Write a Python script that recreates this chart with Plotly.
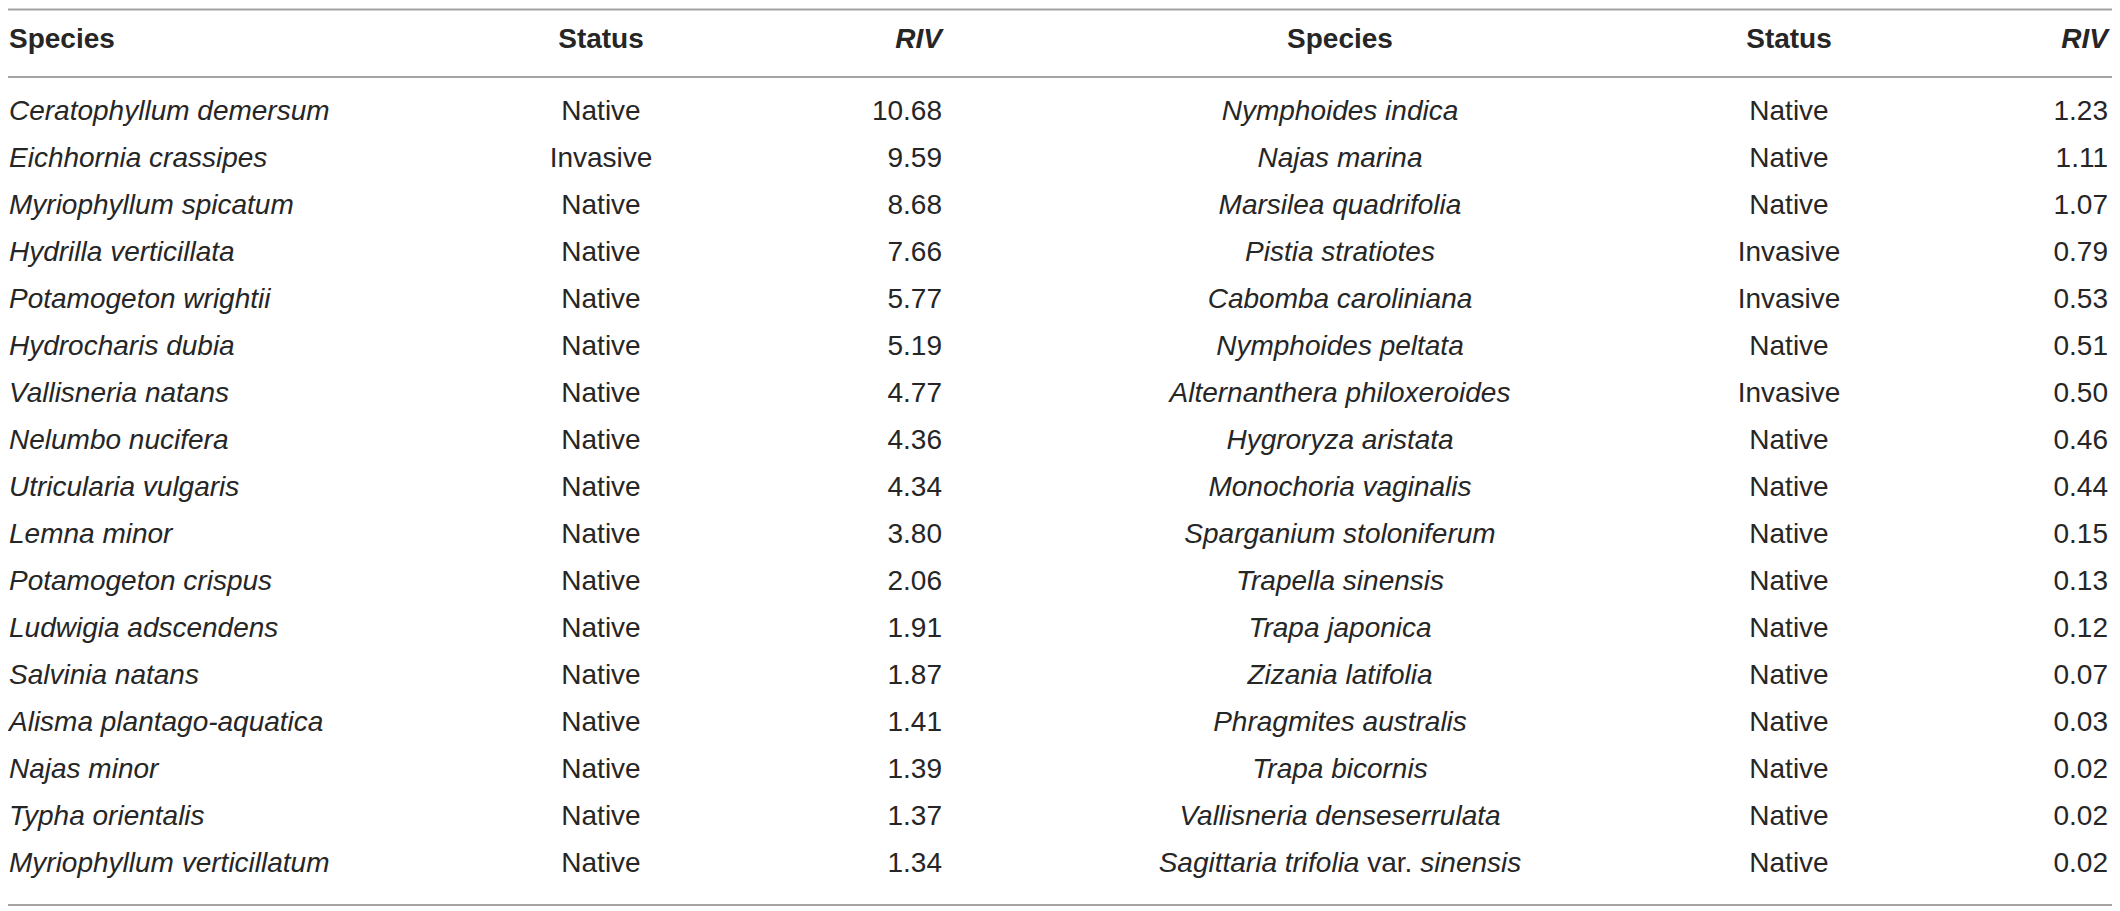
import plotly.graph_objects as go

# table contents
species_left = ["Ceratophyllum demersum", "Eichhornia crassipes", "Myriophyllum spicatum",
                "Hydrilla verticillata", "Potamogeton wrightii", "Hydrocharis dubia",
                "Vallisneria natans", "Nelumbo nucifera", "Utricularia vulgaris", "Lemna minor",
                "Potamogeton crispus", "Ludwigia adscendens", "Salvinia natans",
                "Alisma plantago-aquatica", "Najas minor", "Typha orientalis",
                "Myriophyllum verticillatum"]
status_left = ["Native", "Invasive"] + ["Native"] * 15
riv_left = [10.68, 9.59, 8.68, 7.66, 5.77, 5.19, 4.77, 4.36, 4.34, 3.80,
            2.06, 1.91, 1.87, 1.41, 1.39, 1.37, 1.34]

species_right = ["<i>Nymphoides indica</i>", "<i>Najas marina</i>", "<i>Marsilea quadrifolia</i>",
                 "<i>Pistia stratiotes</i>", "<i>Cabomba caroliniana</i>", "<i>Nymphoides peltata</i>",
                 "<i>Alternanthera philoxeroides</i>", "<i>Hygroryza aristata</i>",
                 "<i>Monochoria vaginalis</i>", "<i>Sparganium stoloniferum</i>",
                 "<i>Trapella sinensis</i>", "<i>Trapa japonica</i>", "<i>Zizania latifolia</i>",
                 "<i>Phragmites australis</i>", "<i>Trapa bicornis</i>",
                 "<i>Vallisneria denseserrulata</i>", "<i>Sagittaria trifolia</i> var. <i>sinensis</i>"]
status_right = ["Native", "Native", "Native", "Invasive", "Invasive", "Native", "Invasive",
                "Native", "Native", "Native", "Native", "Native", "Native", "Native",
                "Native", "Native", "Native"]
riv_right = [1.23, 1.11, 1.07, 0.79, 0.53, 0.51, 0.50, 0.46, 0.44, 0.15,
             0.13, 0.12, 0.07, 0.03, 0.02, 0.02, 0.02]

headers = ["<b>Species</b>", "<b>Status</b>", "<b><i>RIV</i></b>"]

# page pixels; the page body has an 8px margin, so the figure starts at (8, 8)
W, H, PAD = 2120, 911, 8
ROW0, ROWH = 113, 47          # pixel centre of first row, row pitch
def row(px):
    return (px - ROW0) / ROWH

rows = list(range(len(species_left)))
header_y = row(41)
col_x = [9, 601, 942, 1340, 1789, 2108]
col_pos = ["middle right", "middle center", "middle left",
           "middle center", "middle center", "middle left"]

txt_color = "#262626"
font = dict(family="Liberation Sans, Arial, sans-serif", size=28, color=txt_color)

columns = [
    [f"<i>{s}</i>" for s in species_left],
    status_left,
    [f"{v:.2f}" for v in riv_left],
    species_right,
    status_right,
    [f"{v:.2f}" for v in riv_right],
]

fig = go.Figure()
for i, vals in enumerate(columns):
    fig.add_trace(go.Scatter(
        x=[col_x[i]] * (len(vals) + 1),
        y=[header_y] + rows,
        text=[headers[i % 3]] + vals,
        mode="text",
        textposition=col_pos[i],
        textfont=font,
        hoverinfo="skip",
        showlegend=False,
    ))

# horizontal rules
for py in [9.5, 77, 905]:
    fig.add_shape(type="line", xref="x", yref="y", x0=0, x1=2114, y0=row(py), y1=row(py),
                  line=dict(color="#a3a3a3", width=2))

fig.update_layout(
    width=W - PAD, height=H - PAD,
    margin=dict(l=0, r=0, t=0, b=0),
    plot_bgcolor="white", paper_bgcolor="white",
    xaxis=dict(range=[PAD, W], visible=False, fixedrange=True),
    yaxis=dict(range=[row(H), row(PAD)], visible=False, fixedrange=True),
)

fig.write_html("out.html")
